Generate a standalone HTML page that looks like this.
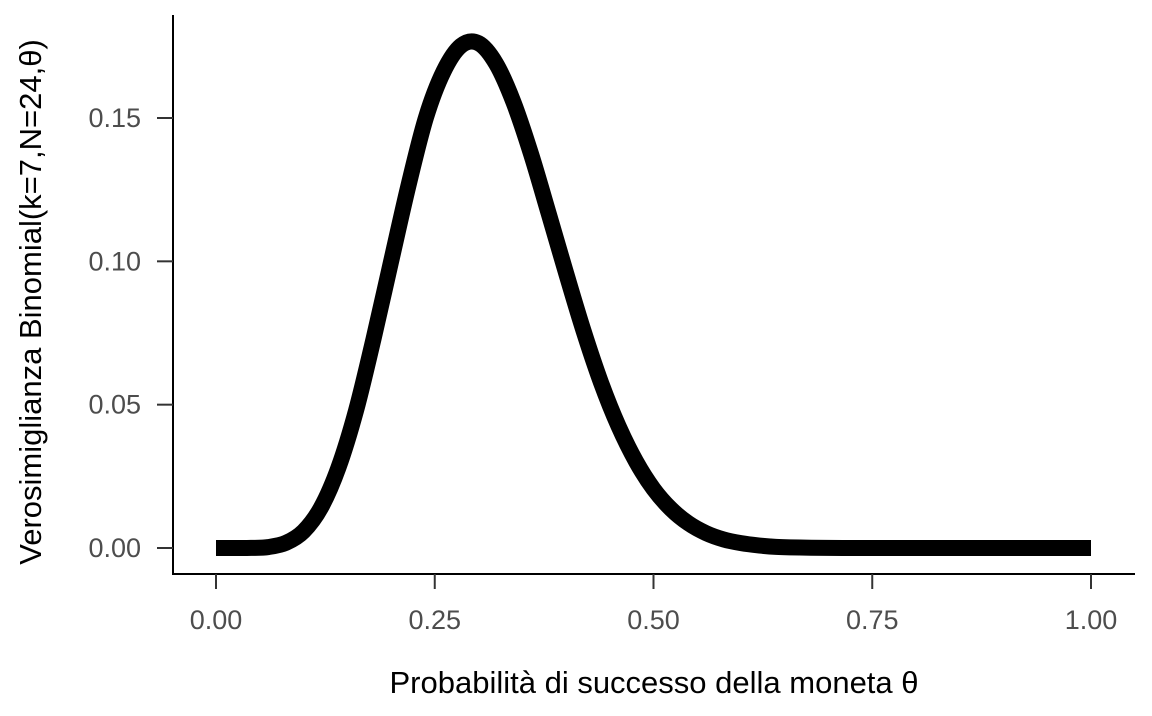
<!DOCTYPE html>
<html><head><meta charset="utf-8"><style>
body{margin:0;background:#fff;}
svg text{font-family:"Liberation Sans",sans-serif;}
</style></head><body>
<svg id="chart" width="1152" height="711" xmlns="http://www.w3.org/2000/svg">
<g id="axes"></g>
<path id="curve" fill="none" stroke="#000" stroke-width="16" stroke-linejoin="round" stroke-linecap="butt"/>
<text x="654" y="693" style="font-size:31px" text-anchor="middle" fill="#000">Probabilità di successo della moneta θ</text>
<text transform="translate(41,302) rotate(-90)" style="font-size:31px" text-anchor="middle" fill="#000">Verosimiglianza Binomial(k=7,N=24,θ)</text>
</svg>
<script>
const thetaValues=[0,0.02,0.04,0.06,0.08,0.10,0.12,0.14,0.16,0.18,0.20,0.22,0.24,0.26,0.28,0.30,0.32,0.34,0.36,0.38,0.40,0.42,0.44,0.46,0.48,0.50,0.52,0.54,0.56,0.58,0.60,0.62,0.64,0.68,0.72,0.76,0.80,0.90,1.00];
const likelihoodValues=[0,0,0.00003,0.00034,0.0018,0.0058,0.0141,0.0281,0.0479,0.0729,0.0998,0.1265,0.1502,0.1662,0.1752,0.1761,0.1690,0.1555,0.1375,0.1169,0.0960,0.0758,0.0577,0.0425,0.0302,0.0206,0.0136,0.0086,0.0052,0.0030,0.0017,0.0009,0.0004,0.0001,0,0,0,0,0];
const xTicks=[0,0.25,0.5,0.75,1];
const xTickLabels=["0.00","0.25","0.50","0.75","1.00"];
const yTicks=[0,0.05,0.10,0.15];
const yTickLabels=["0.00","0.05","0.10","0.15"];
const xs=v=>216+v*875;
const ys=v=>548-v*(430/0.15);
const ns="http://www.w3.org/2000/svg";
const ax=document.getElementById('axes');
function mk(tag,attrs){const e=document.createElementNS(ns,tag);for(const k in attrs)e.setAttribute(k,attrs[k]);ax.appendChild(e);return e;}
let l=mk('line',{x1:173,y1:15,x2:173,y2:574,stroke:'#000','stroke-width':2});


l=mk('line',{x1:172,y1:574,x2:1135,y2:574,stroke:'#000','stroke-width':2});


xTicks.forEach((t,i)=>{
 const tk=mk('line',{x1:xs(t),y1:574,x2:xs(t),y2:589,stroke:'#333','stroke-width':2});
 
 
 const tx=mk('text',{x:xs(t),y:629,'text-anchor':'middle',fill:'#4d4d4d',style:'font-size:27px'});
 tx.textContent=xTickLabels[i];
 
 
});
yTicks.forEach((t,i)=>{
 const tk=mk('line',{x1:157,y1:ys(t),x2:173,y2:ys(t),stroke:'#333','stroke-width':2});
 
 
 const tx=mk('text',{x:141,y:ys(t)+9,'text-anchor':'end',fill:'#4d4d4d',style:'font-size:27px'});
 tx.textContent=yTickLabels[i];
 
 
});
const pts=thetaValues.map((t,i)=>[xs(t),ys(likelihoodValues[i])]);
let d='M'+pts[0][0]+','+pts[0][1];
for(let i=0;i<pts.length-1;i++){
 const p0=pts[Math.max(0,i-1)],p1=pts[i],p2=pts[i+1],p3=pts[Math.min(pts.length-1,i+2)];
 const c1=[p1[0]+(p2[0]-p0[0])/6,p1[1]+(p2[1]-p0[1])/6];
 const c2=[p2[0]-(p3[0]-p1[0])/6,p2[1]-(p3[1]-p1[1])/6];
 d+=` C${c1[0]},${c1[1]} ${c2[0]},${c2[1]} ${p2[0]},${p2[1]}`;
}
document.getElementById('curve').setAttribute('d',d);
</script>
</body></html>
